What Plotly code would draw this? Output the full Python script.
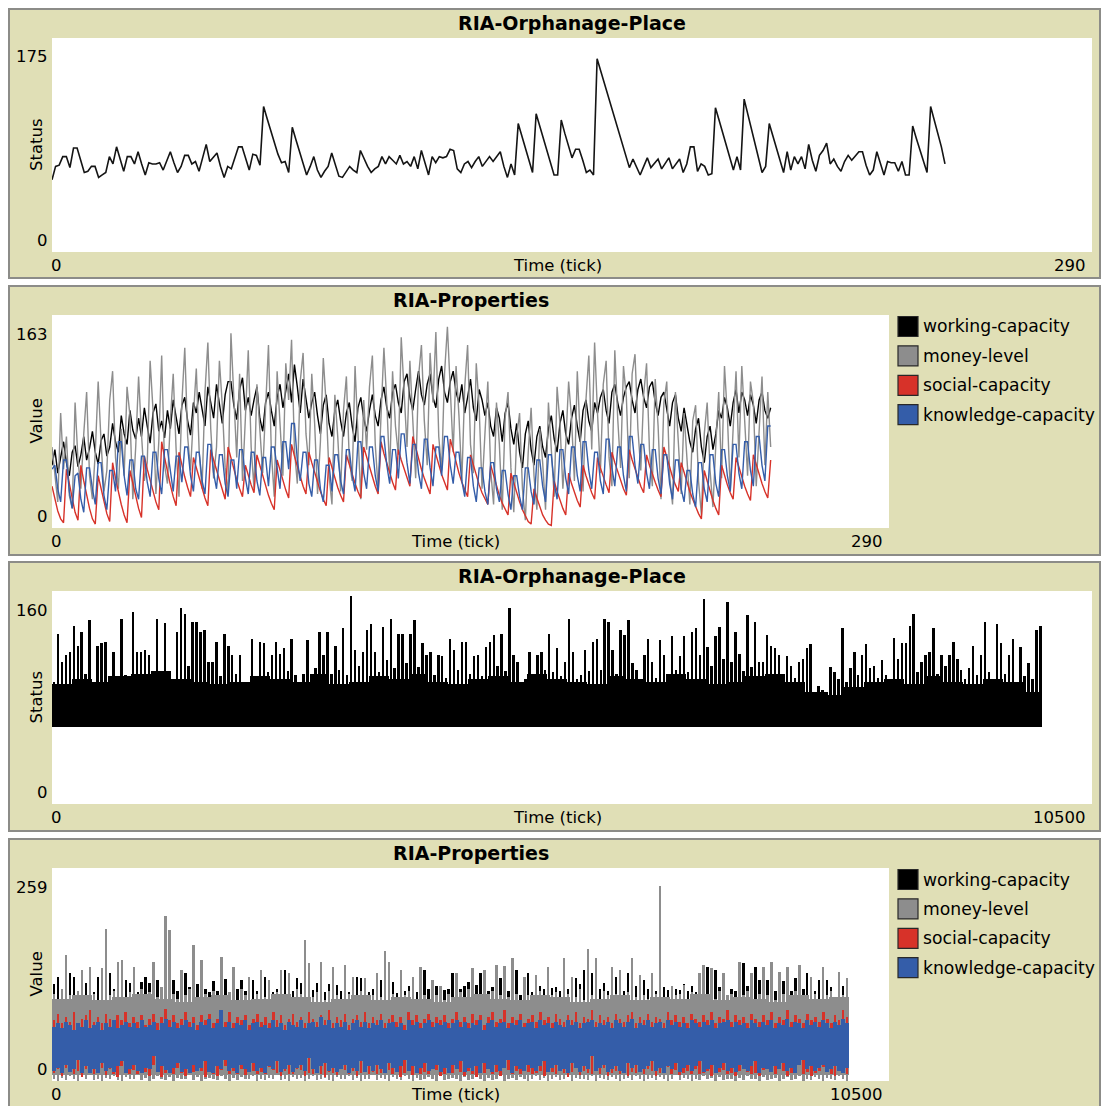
import plotly.graph_objects as go

# ---------------------------------------------------------------------------
# Data
# ---------------------------------------------------------------------------

# Short run (ticks 0..249): status of the orphanage place
status_short = [
    59, 70, 71, 78, 78, 69, 85, 85, 75, 65,
    66, 70, 70, 61, 63, 65, 78, 72, 86, 76,
    66, 78, 78, 72, 82, 72, 63, 73, 72, 72,
    73, 67, 75, 82, 73, 65, 70, 79, 79, 72,
    74, 66, 77, 88, 74, 78, 81, 70, 61, 70,
    68, 77, 86, 86, 76, 67, 80, 79, 71, 119,
    109, 99, 90, 80, 73, 74, 65, 102, 92, 82,
    72, 63, 70, 78, 67, 61, 66, 70, 81, 71,
    62, 61, 66, 70, 67, 65, 83, 76, 70, 65,
    68, 70, 78, 72, 78, 75, 72, 79, 72, 74,
    70, 78, 68, 83, 73, 63, 78, 73, 78, 77,
    78, 84, 83, 68, 65, 72, 74, 69, 74, 78,
    70, 74, 78, 74, 78, 82, 70, 61, 72, 63,
    105, 95, 85, 75, 65, 113, 103, 93, 83, 73,
    63, 63, 108, 97, 87, 77, 84, 84, 75, 65,
    67, 63, 158, 148, 138, 128, 118, 108, 98, 88,
    78, 69, 76, 70, 63, 70, 77, 69, 73, 76,
    68, 72, 77, 68, 72, 76, 65, 72, 86, 86,
    66, 72, 70, 63, 64, 118, 108, 98, 88, 78,
    67, 78, 67, 125, 113, 101, 89, 77, 65, 70,
    105, 95, 85, 75, 65, 82, 67, 78, 72, 78,
    68, 88, 75, 66, 79, 83, 89, 72, 76, 70,
    66, 74, 79, 75, 79, 82, 82, 71, 63, 67,
    82, 72, 63, 74, 73, 73, 66, 74, 63, 63,
    103, 93, 84, 74, 65, 119, 108, 97, 86, 72,
]

# Short run (ticks 0..249): properties of the place
working_short = [
    48, 60, 42, 55, 66, 50, 40, 58, 63, 47,
    56, 70, 52, 61, 74, 58, 49, 67, 72, 55,
    62, 80, 66, 58, 86, 72, 64, 90, 75, 68,
    84, 70, 92, 78, 65, 88, 95, 74, 82, 69,
    90, 76, 98, 85, 72, 94, 100, 82, 71, 96,
    88, 104, 92, 78, 108, 96, 84, 110, 95, 80,
    102, 112, 112, 94, 83, 106, 115, 90, 100, 86,
    98, 108, 84, 74, 96, 104, 90, 78, 100, 110,
    92, 105, 118, 96, 125, 108, 88, 114, 100, 84,
    96, 104, 86, 72, 94, 102, 80, 70, 90, 98,
    82, 70, 88, 96, 78, 66, 92, 100, 84, 74,
    90, 102, 86, 78, 98, 108, 92, 84, 104, 110,
    96, 88, 112, 118, 100, 90, 106, 120, 102, 94,
    110, 118, 100, 92, 114, 124, 104, 96, 112, 120,
    104, 96, 110, 88, 100, 114, 92, 82, 106, 98,
    86, 96, 78, 70, 92, 84, 66, 88, 96, 76,
    64, 80, 58, 46, 72, 82, 60, 48, 70, 78,
    62, 54, 76, 86, 68, 58, 80, 90, 72, 64,
    84, 94, 78, 66, 90, 98, 82, 74, 96, 88,
    100, 106, 90, 80, 104, 110, 96, 86, 100, 108,
    112, 98, 88, 106, 114, 100, 92, 108, 112, 96,
    86, 100, 104, 90, 78, 96, 102, 84, 74, 92,
    80, 66, 58, 76, 84, 62, 50, 70, 78, 60,
    72, 90, 84, 100, 92, 78, 96, 106, 88, 104,
    98, 86, 102, 94, 80, 98, 104, 90, 84, 92,
]

money_short = [
    62, 38, 20, 88, 45, 70, 25, 15, 96, 52,
    30, 72, 104, 40, 22, 58, 112, 66, 28, 44,
    98, 120, 54, 30, 76, 40, 108, 86, 22, 62,
    116, 72, 36, 50, 128, 90, 26, 66, 132, 48,
    34, 82, 118, 60, 24, 96, 138, 70, 44, 86,
    122, 58, 30, 104, 142, 76, 38, 62, 128, 94,
    46, 26, 149, 100, 54, 118, 36, 84, 136, 62,
    30, 110, 76, 42, 92, 140, 58, 24, 120, 82,
    40, 126, 98, 144, 60, 34, 112, 134, 72, 48,
    118, 80, 26, 66, 130, 94, 40, 18, 102, 70,
    28, 90, 116, 52, 36, 124, 74, 22, 98, 60,
    108, 132, 64, 30, 86, 138, 96, 42, 120, 78,
    56, 146, 104, 62, 128, 88, 38, 116, 140, 82,
    48, 134, 96, 150, 70, 44, 118, 154, 100, 58,
    124, 86, 36, 108, 140, 64, 42, 126, 92, 30,
    72, 112, 44, 18, 96, 64, 14, 84, 104, 46,
    12, 70, 88, 30, 6, 58, 92, 40, 14, 76,
    50, 14, 96, 62, 24, 108, 80, 30, 64, 112,
    84, 36, 120, 70, 28, 98, 132, 60, 142, 88,
    42, 110, 128, 54, 32, 136, 84, 46, 124, 100,
    38, 118, 133, 76, 44, 102, 126, 60, 32, 114,
    78, 22, 96, 112, 40, 18, 104, 66, 26, 88,
    54, 18, 82, 94, 36, 10, 72, 96, 44, 16,
    64, 104, 38, 124, 86, 28, 76, 120, 54, 124,
    82, 40, 112, 96, 32, 70, 116, 48, 104, 62,
]

social_short = [
    32, 22, 13, 7, 4, 45, 33, 22, 12, 6,
    48, 36, 25, 15, 7, 3, 40, 30, 20, 11,
    5, 50, 38, 27, 18, 10, 4, 44, 34, 24,
    15, 8, 55, 45, 36, 28, 20, 14, 66, 54,
    43, 33, 24, 17, 58, 48, 39, 31, 24, 54,
    46, 38, 30, 23, 17, 60, 52, 44, 36, 29,
    22, 62, 53, 45, 37, 30, 24, 48, 40, 33,
    27, 56, 48, 40, 32, 25, 19, 14, 52, 44,
    36, 29, 23, 64, 55, 47, 39, 32, 26, 58,
    50, 42, 35, 28, 22, 17, 54, 46, 38, 31,
    25, 20, 56, 48, 41, 34, 28, 23, 62, 54,
    46, 39, 32, 26, 66, 57, 49, 42, 35, 29,
    60, 52, 45, 38, 32, 70, 61, 53, 45, 38,
    32, 26, 64, 56, 48, 41, 35, 29, 68, 59,
    50, 42, 35, 29, 24, 56, 48, 40, 33, 27,
    22, 18, 48, 40, 32, 25, 19, 14, 10, 42,
    34, 27, 20, 14, 9, 5, 3, 30, 23, 16,
    10, 6, 3, 2, 36, 28, 21, 15, 10, 42,
    34, 27, 21, 16, 48, 40, 33, 27, 22, 54,
    46, 39, 33, 27, 58, 50, 43, 36, 30, 25,
    60, 52, 45, 38, 32, 27, 56, 48, 41, 35,
    29, 24, 62, 54, 46, 39, 33, 28, 50, 42,
    35, 28, 22, 16, 11, 7, 44, 36, 28, 21,
    15, 10, 48, 40, 33, 27, 22, 54, 46, 39,
    32, 26, 21, 56, 48, 41, 34, 28, 23, 52,
]

knowledge_short = [
    45, 48, 30, 20, 52, 52, 28, 15, 40, 42,
    22, 12, 46, 46, 30, 18, 50, 50, 25, 14,
    44, 44, 28, 66, 66, 40, 25, 52, 52, 30,
    22, 55, 55, 35, 24, 58, 58, 38, 26, 60,
    60, 42, 28, 55, 55, 35, 62, 62, 40, 28,
    58, 58, 36, 26, 64, 64, 42, 30, 56, 56,
    34, 24, 52, 52, 30, 60, 60, 38, 26, 58,
    58, 36, 25, 54, 54, 32, 62, 62, 44, 30,
    66, 66, 45, 80, 80, 52, 36, 58, 58, 34,
    24, 52, 52, 30, 20, 48, 48, 28, 56, 56,
    36, 26, 60, 60, 40, 28, 66, 66, 42, 30,
    62, 62, 40, 28, 70, 70, 48, 34, 60, 60,
    38, 72, 72, 50, 34, 64, 64, 42, 30, 68,
    68, 46, 32, 62, 62, 40, 70, 70, 48, 34,
    58, 58, 36, 24, 54, 54, 32, 20, 46, 46,
    28, 18, 50, 50, 30, 20, 44, 44, 26, 14,
    40, 40, 24, 14, 46, 46, 28, 18, 52, 52,
    32, 20, 56, 56, 34, 22, 60, 60, 38, 26,
    62, 62, 40, 28, 66, 66, 44, 30, 58, 58,
    36, 26, 68, 68, 46, 32, 62, 62, 40, 28,
    70, 70, 48, 34, 64, 64, 42, 30, 60, 60,
    38, 26, 56, 56, 34, 22, 52, 52, 30, 20,
    44, 44, 26, 16, 50, 50, 30, 20, 56, 56,
    34, 24, 60, 60, 40, 28, 64, 64, 42, 30,
    66, 66, 44, 32, 70, 70, 48, 36, 78, 78,
]

# Long run (ticks 0..9999): status.
# Peak value within each 40-tick window, and the level the trace fills
# solidly within each 200-tick window.
STATUS_LONG_BIN = 40
STATUS_BODY_BIN = 200
STATUS_LONG_FLOOR = 58
status_long_peak = [
    92, 128, 107, 112, 114, 134, 119, 129, 98, 138,
    87, 119, 121, 122, 96, 114, 90, 139, 97, 88,
    144, 114, 114, 116, 112, 94, 139, 100, 136, 94,
    94, 129, 147, 143, 104, 137, 137, 129, 131, 107,
    107, 122, 96, 128, 119, 112, 98, 112, 92, 84,
    124, 95, 122, 121, 99, 112, 122, 113, 117, 100,
    124, 97, 90, 98, 123, 95, 102, 129, 112, 129,
    98, 119, 101, 132, 97, 156, 116, 104, 114, 131,
    135, 114, 99, 133, 108, 139, 102, 128, 128, 106,
    128, 138, 103, 121, 112, 114, 97, 112, 111, 95,
    124, 116, 101, 122, 122, 98, 111, 112, 96, 118,
    122, 127, 104, 128, 100, 147, 112, 107, 90, 94,
    114, 98, 112, 114, 101, 128, 99, 117, 96, 107,
    139, 114, 94, 97, 116, 100, 122, 124, 101, 139,
    137, 116, 98, 131, 127, 138, 106, 101, 93, 112,
    124, 107, 95, 123, 112, 98, 126, 101, 111, 126,
    99, 129, 132, 112, 154, 118, 104, 126, 133, 109,
    152, 107, 129, 113, 100, 142, 103, 137, 107, 107,
    127, 119, 117, 112, 98, 111, 104, 95, 107, 109,
    117, 120, 84, 89, 86, 84, 103, 99, 94, 132,
    92, 102, 114, 97, 112, 120, 102, 104, 95, 108,
    97, 93, 125, 109, 121, 121, 134, 143, 99, 107,
    112, 114, 132, 98, 112, 104, 112, 122, 109, 101,
    94, 102, 119, 97, 112, 137, 99, 93, 135, 121,
    98, 112, 124, 92, 118, 96, 106, 94, 131, 134,
]
status_long_body = [
    90, 94, 92, 96, 98, 100, 94, 92, 90, 92,
    96, 94, 92, 98, 90, 92, 96, 94, 98, 92,
    90, 94, 96, 92, 98, 94, 92, 90, 96, 94,
    92, 98, 94, 90, 92, 96, 98, 92, 84, 82,
    88, 92, 94, 90, 96, 92, 90, 94, 92, 84,
]

# Long run (ticks 0..9999): properties, range within each 50-tick window
PROPS_LONG_BIN = 50
PROPS_BODY_BIN = 250
WORKING_LONG_FLOOR = 20
MONEY_BODY_FLOOR = 7
working_long_high = [
    118, 126, 112, 120, 131, 127, 110, 122, 119, 114,
    108, 127, 116, 120, 131, 112, 118, 124, 123, 119,
    114, 108, 120, 127, 119, 116, 123, 112, 122, 118,
    123, 110, 116, 131, 114, 120, 118, 124, 112, 108,
    121, 110, 118, 124, 108, 116, 112, 123, 110, 126,
    123, 110, 118, 127, 114, 108, 112, 122, 135, 116,
    110, 125, 119, 122, 116, 111, 119, 114, 108, 118,
    116, 117, 110, 120, 108, 116, 127, 125, 114, 108,
    112, 118, 123, 116, 114, 120, 107, 118, 110, 115,
    114, 108, 118, 135, 112, 116, 115, 110, 111, 112,
    131, 116, 112, 115, 120, 116, 117, 131, 114, 110,
    114, 120, 125, 118, 110, 120, 135, 105, 116, 131,
    108, 118, 115, 112, 116, 113, 114, 110, 118, 112,
    116, 125, 118, 135, 120, 131, 116, 112, 119, 110,
    118, 127, 114, 110, 131, 118, 115, 116, 123, 112,
    118, 110, 120, 114, 111, 110, 112, 111, 118, 110,
    116, 108, 118, 120, 139, 116, 135, 114, 118, 103,
    112, 110, 120, 143, 116, 118, 139, 123, 116, 123,
    118, 110, 116, 121, 118, 110, 125, 116, 112, 131,
    116, 110, 123, 118, 123, 114, 98, 116, 115, 118,
]

money_long_high = [
    106, 100, 112, 153, 104, 98, 110, 135, 102, 139,
    106, 98, 137, 185, 104, 110, 145, 147, 100, 108,
    139, 98, 112, 104, 108, 145, 102, 114, 201, 184,
    106, 100, 135, 104, 112, 165, 102, 147, 106, 96,
    110, 104, 151, 100, 108, 139, 98, 112, 104, 127,
    96, 106, 135, 102, 123, 96, 108, 135, 104, 131,
    100, 112, 106, 172, 143, 102, 108, 145, 98, 110,
    139, 104, 96, 141, 106, 127, 100, 110, 125, 96,
    104, 131, 102, 158, 145, 106, 98, 135, 104, 110,
    127, 100, 139, 104, 98, 123, 104, 115, 98, 106,
    102, 131, 108, 98, 112, 137, 104, 106, 135, 100,
    110, 141, 104, 140, 102, 149, 106, 98, 127, 104,
    100, 129, 110, 96, 139, 104, 108, 100, 149, 106,
    127, 102, 112, 98, 161, 104, 149, 100, 110, 104,
    139, 106, 135, 96, 108, 149, 102, 129, 104, 100,
    131, 106, 237, 102, 96, 115, 104, 106, 117, 98,
    108, 102, 131, 141, 104, 137, 100, 110, 131, 104,
    106, 96, 145, 104, 110, 131, 100, 106, 139, 104,
    145, 98, 133, 106, 139, 102, 110, 141, 104, 100,
    127, 106, 96, 139, 104, 110, 100, 133, 104, 125,
]

money_long_low = [
    2, 0, 4, 1, 6, 3, 0, 5, 2, 7,
    1, 3, 0, 4, 2, 6, 1, 0, 5, 3,
    2, 7, 1, 4, 0, 3, 6, 2, 1, 5,
    0, 4, 2, 3, 7, 1, 5, 0, 2, 4,
    3, 1, 6, 2, 0, 4, 1, 5, 3, 2,
    6, 0, 3, 1, 4, 2, 7, 1, 3, 0,
    5, 2, 4, 0, 3, 6, 1, 2, 4, 1,
    0, 5, 3, 2, 6, 1, 4, 0, 2, 3,
    7, 1, 4, 2, 0, 5, 3, 1, 6, 2,
    0, 4, 1, 3, 5, 2, 0, 6, 1, 3,
    4, 2, 0, 5, 1, 3, 7, 2, 0, 4,
    1, 3, 6, 0, 2, 4, 1, 5, 3, 0,
    2, 6, 1, 4, 0, 3, 5, 1, 2, 7,
    0, 4, 2, 3, 1, 6, 0, 4, 2, 1,
    5, 3, 0, 2, 4, 1, 6, 3, 0, 2,
    4, 1, 5, 2, 0, 3, 7, 1, 4, 2,
    0, 3, 1, 6, 2, 4, 0, 5, 1, 3,
    2, 0, 4, 1, 6, 3, 2, 0, 5, 1,
    3, 4, 0, 2, 5, 1, 3, 6, 0, 2,
    1, 5, 2, 0, 4, 3, 1, 6, 2, 0,
]

# level the money-level trace fills solidly within each 250-tick window
money_long_body = [
    100, 104, 98, 102, 106, 100, 96, 102, 104, 98,
    100, 106, 102, 96, 100, 104, 98, 102, 100, 96,
    102, 106, 100, 98, 104, 102, 96, 100, 104, 98,
    102, 100, 106, 98, 102, 100, 96, 104, 100, 102,
]

social_long_high = [
    74, 82, 70, 78, 72, 84, 68, 76, 80, 86,
    72, 78, 70, 82, 76, 68, 80, 74, 84, 70,
    78, 72, 80, 68, 76, 82, 70, 78, 88, 74,
    80, 70, 76, 84, 72, 78, 68, 80, 74, 82,
    70, 76, 78, 72, 84, 70, 78, 74, 80, 68,
    76, 82, 72, 78, 70, 84, 74, 80, 68, 76,
    82, 72, 78, 70, 84, 76, 72, 80, 74, 86,
    70, 78, 74, 82, 68, 76, 80, 72, 84, 70,
    78, 74, 82, 70, 76, 80, 72, 78, 68, 84,
    74, 80, 70, 76, 82, 72, 78, 74, 80, 70,
    76, 84, 72, 78, 70, 82, 74, 80, 68, 78,
    84, 72, 76, 86, 70, 78, 74, 82, 70, 76,
    80, 72, 84, 74, 78, 70, 82, 76, 72, 80,
    74, 84, 70, 78, 76, 86, 72, 80, 74, 78,
    70, 82, 76, 72, 80, 84, 70, 78, 74, 82,
    72, 78, 76, 70, 84, 74, 80, 72, 78, 70,
    82, 76, 72, 80, 74, 84, 70, 78, 76, 86,
    72, 80, 74, 78, 70, 82, 76, 72, 80, 74,
    84, 70, 78, 74, 86, 72, 80, 76, 70, 82,
    74, 78, 72, 84, 76, 70, 80, 74, 86, 78,
]

social_long_low = [
    10, 14, 6, 16, 18, 8, 12, 5, 15, 10,
    8, 12, 16, 7, 14, 9, 5, 18, 11, 8,
    13, 9, 15, 11, 6, 20, 12, 5, 10, 14,
    8, 16, 10, 6, 13, 11, 17, 12, 5, 11,
    9, 6, 13, 18, 8, 12, 9, 14, 7, 15,
    12, 8, 11, 9, 17, 13, 10, 6, 12, 9,
    8, 15, 13, 6, 10, 9, 18, 8, 5, 11,
    10, 7, 16, 13, 8, 12, 6, 10, 19, 9,
    11, 8, 10, 15, 13, 9, 12, 5, 10, 17,
    7, 12, 9, 11, 8, 16, 13, 6, 9, 12,
    10, 18, 11, 6, 12, 9, 5, 13, 10, 15,
    9, 11, 6, 16, 13, 8, 12, 9, 19, 11,
    8, 10, 12, 6, 15, 11, 8, 13, 10, 5,
    11, 17, 7, 12, 10, 8, 13, 9, 16, 6,
    10, 12, 8, 19, 6, 11, 10, 13, 8, 15,
    12, 6, 10, 11, 17, 9, 13, 7, 10, 12,
    9, 15, 8, 10, 12, 6, 18, 11, 13, 8,
    10, 6, 12, 16, 11, 8, 10, 6, 13, 17,
    11, 8, 15, 12, 6, 10, 13, 19, 9, 11,
    6, 10, 12, 17, 11, 9, 6, 13, 10, 8,
]

knowledge_long_high = [
    66, 70, 64, 72, 68, 62, 70, 66, 74, 64,
    68, 72, 62, 70, 66, 74, 64, 68, 72, 66,
    70, 64, 74, 66, 68, 72, 62, 70, 76, 66,
    72, 64, 68, 74, 66, 70, 62, 72, 68, 76,
    64, 70, 86, 66, 72, 64, 70, 68, 74, 62,
    70, 72, 66, 68, 64, 74, 66, 70, 62, 72,
    68, 66, 74, 64, 70, 72, 66, 78, 68, 74,
    64, 70, 66, 72, 62, 70, 74, 66, 72, 64,
    70, 68, 74, 64, 70, 72, 66, 70, 62, 74,
    68, 72, 64, 70, 74, 66, 70, 68, 72, 64,
    70, 74, 66, 72, 64, 70, 68, 74, 62, 70,
    74, 66, 70, 72, 64, 70, 68, 74, 66, 70,
    72, 64, 74, 68, 70, 64, 72, 68, 66, 74,
    68, 72, 64, 70, 72, 74, 66, 70, 68, 72,
    64, 74, 70, 66, 72, 76, 64, 70, 68, 74,
    66, 70, 72, 64, 74, 68, 72, 66, 70, 64,
    74, 70, 66, 72, 68, 74, 64, 70, 72, 74,
    66, 72, 68, 70, 64, 74, 70, 66, 72, 68,
    74, 64, 70, 68, 76, 66, 72, 70, 64, 74,
    68, 72, 66, 74, 70, 64, 72, 68, 76, 70,
]

knowledge_long_low = [
    12, 16, 10, 20, 11, 14, 26, 10, 18, 10,
    14, 10, 22, 12, 16, 11, 18, 24, 10, 15,
    20, 12, 10, 16, 14, 30, 11, 18, 13, 10,
    16, 22, 11, 14, 10, 20, 12, 16, 24, 11,
    10, 18, 14, 26, 12, 16, 10, 20, 14, 11,
    22, 12, 16, 10, 18, 14, 24, 11, 15, 20,
    11, 16, 20, 12, 28, 14, 10, 18, 22, 12,
    16, 11, 14, 20, 10, 16, 12, 24, 11, 18,
    12, 20, 14, 10, 22, 16, 11, 18, 26, 12,
    18, 10, 16, 22, 12, 14, 20, 11, 16, 10,
    20, 14, 24, 11, 16, 12, 18, 10, 22, 14,
    11, 20, 12, 16, 26, 10, 18, 14, 12, 20,
    16, 12, 18, 24, 11, 16, 20, 12, 14, 10,
    22, 16, 11, 18, 14, 30, 12, 16, 20, 11,
    14, 18, 12, 10, 22, 16, 20, 11, 14, 18,
    24, 12, 16, 10, 18, 14, 22, 11, 16, 20,
    12, 18, 24, 11, 14, 20, 10, 16, 22, 12,
    16, 11, 20, 14, 12, 18, 24, 10, 16, 14,
    11, 18, 14, 22, 12, 16, 10, 20, 26, 14,
    18, 12, 16, 20, 11, 14, 18, 12, 10, 16,
]

SERIES_NAMES = ["working-capacity", "money-level", "social-capacity", "knowledge-capacity"]

# Panel texts and axis extents
PANEL_TITLES = ["RIA-Orphanage-Place", "RIA-Properties", "RIA-Orphanage-Place", "RIA-Properties"]
PANEL_YLABELS = ["Status", "Value", "Status", "Value"]
PANEL_XMAX = [290, 290, 10500, 10500]
PANEL_YMAX = [175, 163, 160, 259]
X_LABEL = "Time (tick)"

# ---------------------------------------------------------------------------
# Styling / geometry (pixels in a 1103 x 1106 canvas)
# ---------------------------------------------------------------------------
W, H = 1103, 1106
BEIGE = "rgb(224,223,182)"
FRAME_LINE = "rgb(140,140,136)"
SERIES_COLORS = ["rgb(0,0,0)", "rgb(141,141,141)", "rgb(215,50,41)", "rgb(52,93,169)"]
FONT = "DejaVu Sans"
TXT = 16.5

# plot boxes (left, top, right, bottom) and widget frames
BOXES = [(52, 38, 1092, 252), (52, 315, 889, 528), (52, 591, 1092, 804), (52, 868, 889, 1081)]
FRAMES = [(9, 9, 1100, 278), (9, 286, 1100, 555), (9, 562, 1100, 831), (9, 839, 1100, 1112)]


def fx(px):
    return px / W


def fy(py):
    return 1 - py / H


def centers(n, width):
    return [width * (i + 0.5) for i in range(n)]


fig = go.Figure()

# --- panel 1: short-run status line
fig.add_trace(go.Scatter(x=list(range(len(status_short))), y=status_short, mode="lines",
                         line=dict(color="rgb(20,20,20)", width=1.6),
                         xaxis="x", yaxis="y", showlegend=False))

# --- panel 2: short-run properties lines
for name, vals, col in zip(SERIES_NAMES,
                           [working_short, money_short, social_short, knowledge_short],
                           SERIES_COLORS):
    fig.add_trace(go.Scatter(x=list(range(len(vals))), y=vals, mode="lines",
                             line=dict(color=col, width=1.4), name=name,
                             xaxis="x2", yaxis="y2", showlegend=False))

# --- panel 3: long-run status as solid body plus per-window peaks
fig.add_trace(go.Bar(x=centers(len(status_long_body), STATUS_BODY_BIN),
                     y=[v - STATUS_LONG_FLOOR for v in status_long_body],
                     base=STATUS_LONG_FLOOR, width=STATUS_BODY_BIN,
                     marker=dict(color="black", line=dict(width=0)),
                     xaxis="x3", yaxis="y3", showlegend=False))
fig.add_trace(go.Bar(x=centers(len(status_long_peak), STATUS_LONG_BIN),
                     y=[v - STATUS_LONG_FLOOR for v in status_long_peak],
                     base=STATUS_LONG_FLOOR, width=STATUS_LONG_BIN * 0.62,
                     marker=dict(color="black", line=dict(width=0)),
                     xaxis="x3", yaxis="y3", showlegend=False))

# --- panel 4: long-run properties, per-window ranges
n4 = len(money_long_high)
x4 = centers(n4, PROPS_LONG_BIN)
thin = PROPS_LONG_BIN * 0.6
fig.add_trace(go.Bar(x=x4, y=[h - WORKING_LONG_FLOOR for h in working_long_high],
                     base=WORKING_LONG_FLOOR, width=thin, name=SERIES_NAMES[0],
                     marker=dict(color=SERIES_COLORS[0], line=dict(width=0)),
                     xaxis="x4", yaxis="y4", showlegend=False))
fig.add_trace(go.Bar(x=centers(len(money_long_body), PROPS_BODY_BIN),
                     y=[v - MONEY_BODY_FLOOR for v in money_long_body],
                     base=MONEY_BODY_FLOOR, width=PROPS_BODY_BIN, name=SERIES_NAMES[1],
                     marker=dict(color=SERIES_COLORS[1], line=dict(width=0)),
                     xaxis="x4", yaxis="y4", showlegend=False))
fig.add_trace(go.Bar(x=x4, y=[h - l for h, l in zip(money_long_high, money_long_low)],
                     base=money_long_low, width=thin, name=SERIES_NAMES[1],
                     marker=dict(color=SERIES_COLORS[1], line=dict(width=0)),
                     xaxis="x4", yaxis="y4", showlegend=False))
fig.add_trace(go.Bar(x=x4, y=[h - l for h, l in zip(social_long_high, social_long_low)],
                     base=social_long_low, width=PROPS_LONG_BIN * 0.65, name=SERIES_NAMES[2],
                     marker=dict(color=SERIES_COLORS[2], line=dict(width=0)),
                     xaxis="x4", yaxis="y4", showlegend=False))
fig.add_trace(go.Bar(x=x4, y=[h - l for h, l in zip(knowledge_long_high, knowledge_long_low)],
                     base=knowledge_long_low, width=PROPS_LONG_BIN, name=SERIES_NAMES[3],
                     marker=dict(color=SERIES_COLORS[3], line=dict(width=0)),
                     xaxis="x4", yaxis="y4", showlegend=False))

# --- axes
layout_axes = {}
for k, (box, xmax, ymax) in enumerate(zip(BOXES, PANEL_XMAX, PANEL_YMAX), start=1):
    l, t, r, b = box
    sx = "" if k == 1 else str(k)
    common = dict(showgrid=False, zeroline=False, showticklabels=False, ticks="",
                  showline=False, fixedrange=True)
    layout_axes["xaxis" + sx] = dict(domain=[fx(l), fx(r)], range=[0, xmax],
                                     anchor="y" + sx, **common)
    layout_axes["yaxis" + sx] = dict(domain=[fy(b), fy(t)], range=[0, ymax],
                                     anchor="x" + sx, **common)

# --- widget frames and white plot canvases
shapes = []
for (x0, y0, x1, y1) in FRAMES:
    shapes.append(dict(type="rect", xref="paper", yref="paper",
                       x0=fx(x0), x1=fx(x1), y0=fy(y1), y1=fy(y0),
                       fillcolor=BEIGE, line=dict(color=FRAME_LINE, width=2),
                       layer="below"))
for (l, t, r, b) in BOXES:
    shapes.append(dict(type="rect", xref="paper", yref="paper",
                       x0=fx(l), x1=fx(r), y0=fy(b), y1=fy(t),
                       fillcolor="white", line=dict(width=0), layer="below"))

# --- texts
ann = []


def text(x, y, s, size=TXT, xanchor="center", angle=0, bold=False):
    ann.append(dict(x=fx(x), y=fy(y), xref="paper", yref="paper", text=s,
                    showarrow=False, xanchor=xanchor, yanchor="middle",
                    textangle=angle,
                    font=dict(family=FONT, size=size, color="black",
                              weight="bold" if bold else "normal")))


for k in range(4):
    l, t, r, b = BOXES[k]
    ftop = FRAMES[k][1]
    text((l + r) / 2, ftop + 14, PANEL_TITLES[k], size=19, bold=True)
    text(50, t + 19, str(PANEL_YMAX[k]), xanchor="right")
    text(50, b - 11.5, "0", xanchor="right")
    text(36, (t + b) / 2, PANEL_YLABELS[k], angle=-90)
    text(49, b + 13, "0", xanchor="left")
    text((l + r) / 2 - 15, b + 13, X_LABEL)
    text(r - 4, b + 13, str(PANEL_XMAX[k]), xanchor="right")

# legends for the properties panels
for k in (1, 3):
    l, t, r, b = BOXES[k]
    for j, (name, col) in enumerate(zip(SERIES_NAMES, SERIES_COLORS)):
        cy = t + 11.5 + 29.4 * j
        shapes.append(dict(type="rect", xref="paper", yref="paper",
                           x0=fx(898), x1=fx(918), y0=fy(cy + 10), y1=fy(cy - 10),
                           fillcolor=col, line=dict(color="rgb(40,40,40)", width=1.2)))
        text(921, cy, name, size=17.2, xanchor="left")

fig.update_layout(
    width=W, height=H, autosize=False,
    margin=dict(l=0, r=0, t=0, b=0),
    paper_bgcolor="white", plot_bgcolor="white",
    barmode="overlay", bargap=0,
    shapes=shapes, annotations=ann,
    **layout_axes,
)

fig.write_html("out.html")
